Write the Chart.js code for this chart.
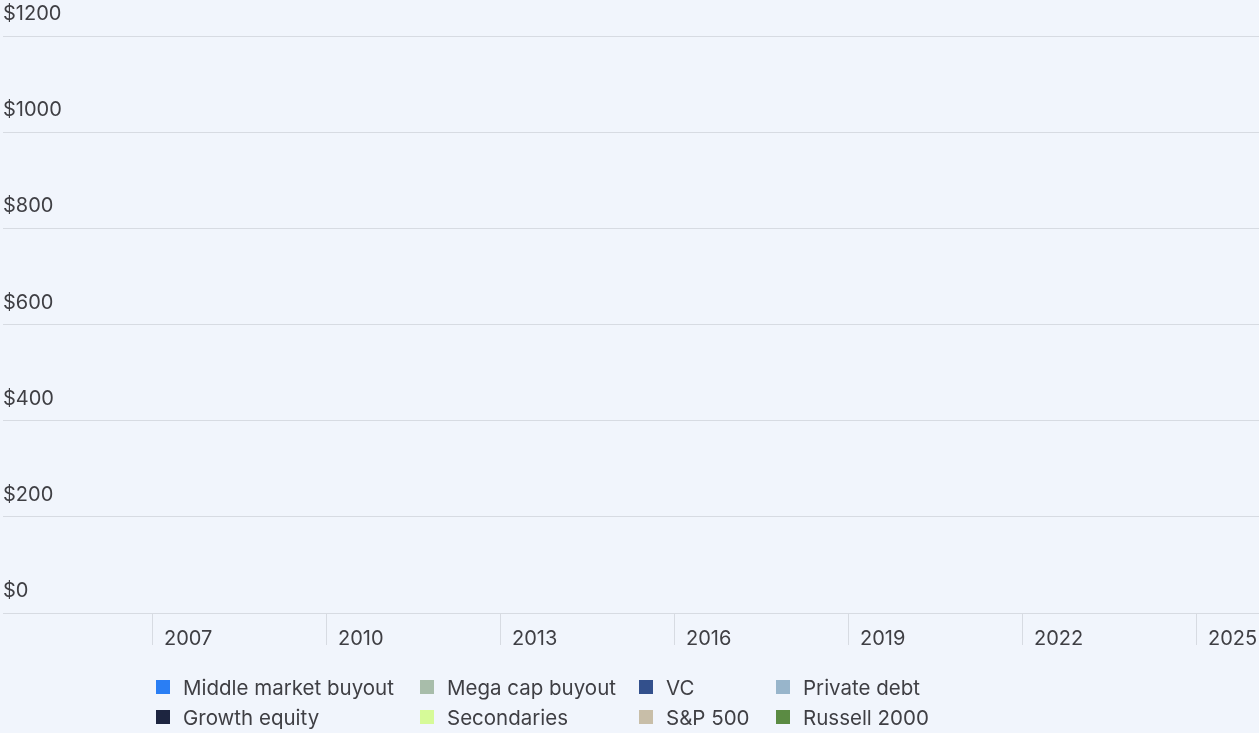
<!DOCTYPE html>
<html>
<head>
<meta charset="utf-8">
<script src="https://cdn.jsdelivr.net/npm/chart.js@4"></script>
<style>
  html, body { margin: 0; padding: 0; background: #f1f5fc; }
  body { width: 1259px; height: 733px; overflow: hidden; position: relative; font-family: Inter, "Noto Sans", sans-serif; }
  #wrap { position: absolute; left: 0; top: 0; width: 1259px; height: 733px; }
  #legend {
    position: absolute; left: 156px; top: 672px;
    display: grid; grid-template-columns: 264px 219px 137px auto;
    grid-auto-rows: 30px;
    font-size: 20.5px; color: #3f3f44;
  }
  #legend .item { display: flex; align-items: center; white-space: nowrap; }
  #legend .box { width: 14px; height: 14px; margin-right: 13px; flex: none; }
</style>
</head>
<body>
<div id="wrap"><canvas id="chart"></canvas></div>
<div id="legend"></div>
<script>
// =====================================
// DATA
// =====================================
// tick labels on the x axis (years)
const yearTicks = [2007, 2010, 2013, 2016, 2019, 2022, 2025];
const yTickStep = 200;
const yMax = 1200;

// series names + colours (in legend order, row by row)
const seriesNames = [
  "Middle market buyout", "Mega cap buyout", "VC", "Private debt",
  "Growth equity", "Secondaries", "S&P 500", "Russell 2000"
];
const seriesColors = [
  "#2a7ef4", "#a8bdaa", "#33508c", "#98b5cb",
  "#1d2540", "#d6fa98", "#c8bea8", "#5b8b43"
];

// series values: nothing is plotted in the picture, so all are empty
const middleMarketBuyout = [];
const megaCapBuyout = [];
const vc = [];
const privateDebt = [];
const growthEquity = [];
const secondaries = [];
const sp500 = [];
const russell2000 = [];

const seriesValues = [
  middleMarketBuyout, megaCapBuyout, vc, privateDebt,
  growthEquity, secondaries, sp500, russell2000
];

// =====================================
// CHART
// =====================================
const textColor = "#3f3f44";
const gridColor = "#d7dbe2";
const tickFont = { family: "Inter, 'Noto Sans', sans-serif", size: 20 };

Chart.defaults.animation = false;

const chart = new Chart(document.getElementById("chart"), {
  type: "line",
  data: {
    datasets: seriesNames.map((name, i) => ({
      label: name,
      data: seriesValues[i],
      borderColor: seriesColors[i],
      backgroundColor: seriesColors[i],
      borderWidth: 2,
      pointRadius: 0,
      fill: false
    }))
  },
  options: {
    responsive: true,
    maintainAspectRatio: false,
    layout: { padding: { left: 3, right: 0, top: 36, bottom: 80 } },
    plugins: {
      legend: { display: false },
      tooltip: { enabled: false }
    },
    scales: {
      x: {
        type: "linear",
        min: 2004.414,
        max: 2026.07,
        afterBuildTicks: (scale) => { scale.ticks = yearTicks.map(v => ({ value: v })); },
        afterFit: (scale) => { scale.height = 40; },
        grid: { drawOnChartArea: false, drawTicks: true, tickLength: 32, color: gridColor },
        border: { display: false },
        ticks: {
          align: "start",
          labelOffset: 11,
          padding: -18,
          maxRotation: 0,
          autoSkip: false,
          color: textColor,
          font: tickFont,
          callback: v => String(v)
        }
      },
      y: {
        min: 0,
        max: yMax,
        grid: { drawTicks: false, color: gridColor },
        border: { display: false },
        ticks: {
          stepSize: yTickStep,
          mirror: true,
          padding: 0,
          labelOffset: -22,
          color: textColor,
          font: tickFont,
          callback: v => "$" + v
        }
      }
    }
  }
});

// =====================================
// LEGEND (built from the chart's own legend items)
// =====================================
const legendEl = document.getElementById("legend");
chart.options.plugins.legend.labels.generateLabels(chart).forEach(item => {
  const div = document.createElement("div");
  div.className = "item";
  div.innerHTML = `<span class="box" style="background:${item.fillStyle}"></span><span>${item.text}</span>`;
  legendEl.appendChild(div);
});
</script>
</body>
</html>
